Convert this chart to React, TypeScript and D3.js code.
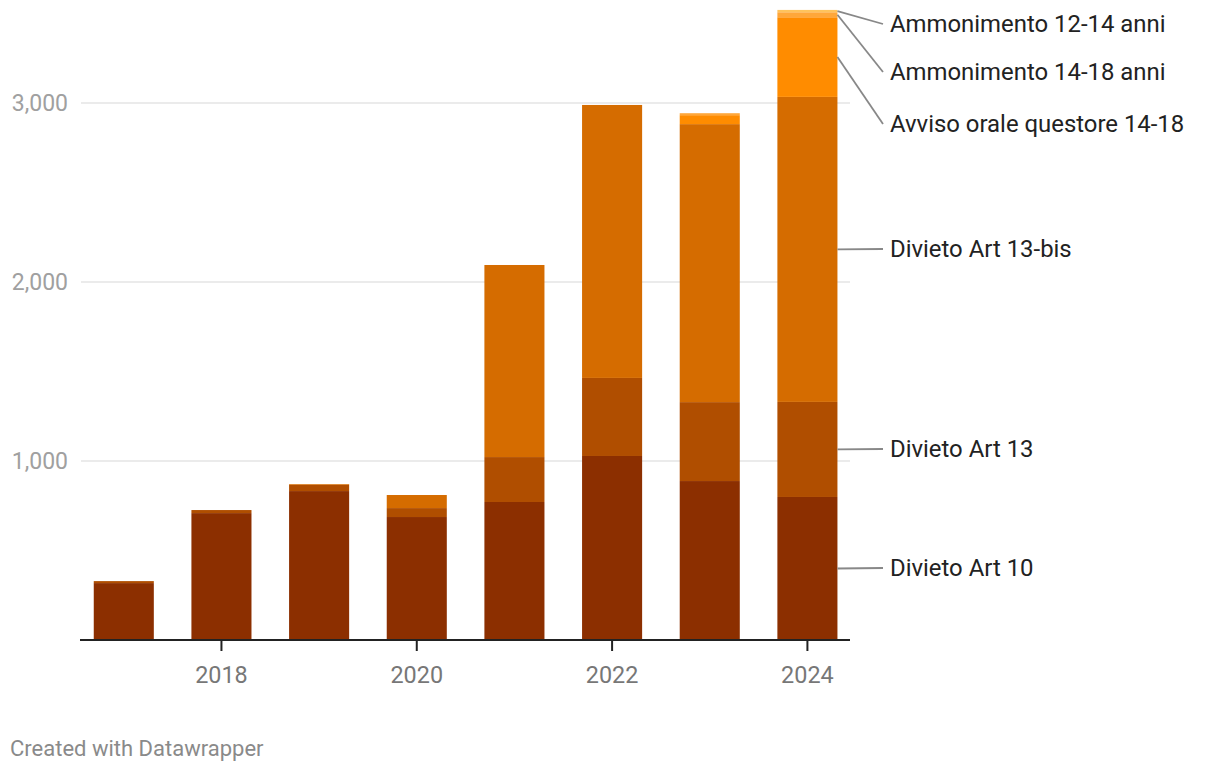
import React from "react";
import * as d3 from "d3";

const years = ["2017", "2018", "2019", "2020", "2021", "2022", "2023", "2024"];
const seriesNames = [
  "Divieto Art 10",
  "Divieto Art 13",
  "Divieto Art 13-bis",
  "Avviso orale questore 14-18",
  "Ammonimento 14-18 anni",
  "Ammonimento 12-14 anni",
];
const divietoArt10 = [318, 709, 832, 687, 771, 1028, 888, 799];
const divietoArt13 = [11, 17, 35, 50, 251, 436, 441, 531];
const divietoArt13bis = [0, 0, 4, 73, 1073, 1525, 1553, 1704];
const avvisoOrale = [0, 0, 0, 0, 0, 0, 50, 445];
const ammonimento1418 = [0, 0, 0, 0, 0, 0, 11, 28];
const ammonimento1214 = [0, 0, 0, 0, 0, 0, 0, 13];
const colors = ["#8c2f00", "#b04e00", "#d56c00", "#ff8c00", "#ffa73a", "#ffc35c"];
const yTicks = [1000, 2000, 3000];
const xTickLabels = ["2018", "2020", "2022", "2024"];
// label y positions (text centers) for the end labels
const labelY = [568, 449, 249, 124, 72, 24];

const W = 1220;
const H = 772;

export default function App() {
  const seriesValues = [divietoArt10, divietoArt13, divietoArt13bis, avvisoOrale, ammonimento1418, ammonimento1214];
  const table = years.map((y, i) => {
    const row: any = { year: y };
    seriesNames.forEach((s, k) => (row[s] = seriesValues[k][i]));
    return row;
  });
  const stacked = d3.stack<any>().keys(seriesNames)(table);

  const x = d3.scaleBand().domain(years).range([75.2, 856]).paddingInner(0.385).paddingOuter(0.19);
  const y = d3.scaleLinear().domain([0, 3000]).range([640, 103]);
  const font = "Roboto, 'Noto Sans', sans-serif";
  const last = years[years.length - 1];
  const lastX = (x(last) as number) + x.bandwidth();

  return (
    <svg width={W} height={H} style={{ position: "absolute", left: 0, top: 0 }} fontFamily={font}>
      <rect width={W} height={H} fill="#fff" />
      {yTicks.map((t) => (
        <g key={t}>
          <line x1={81} x2={850} y1={y(t)} y2={y(t)} stroke="#e5e5e5" strokeWidth={1.5} />
          <text x={68} y={y(t)} dy="0.35em" textAnchor="end" fontSize={23} fill="#a0a0a0">
            {d3.format(",")(t)}
          </text>
        </g>
      ))}
      {stacked.map((layer, k) => (
        <g key={layer.key} fill={colors[k]}>
          {layer.map((d, i) =>
            d[1] - d[0] > 0 ? (
              <rect
                key={i}
                x={x(years[i]) as number}
                width={x.bandwidth()}
                y={y(d[1])}
                height={y(d[0]) - y(d[1])}
              />
            ) : null
          )}
        </g>
      ))}
      <line x1={80} x2={850} y1={640} y2={640} stroke="#222" strokeWidth={2} />
      {xTickLabels.map((t) => {
        const cx = (x(t) as number) + x.bandwidth() / 2;
        return (
          <g key={t}>
            <line x1={cx} x2={cx} y1={640} y2={651} stroke="#222" strokeWidth={2} />
            <text x={cx} y={675} dy="0.35em" textAnchor="middle" fontSize={23.4} fill="#777">
              {t}
            </text>
          </g>
        );
      })}
      {stacked.map((layer, k) => {
        const d = layer[layer.length - 1];
        const midY = y((d[0] + d[1]) / 2);
        return (
          <g key={"lab" + k}>
            <line x1={lastX} x2={883} y1={midY} y2={labelY[k]} stroke="#888" strokeWidth={1.8} />
            <text x={890} y={labelY[k]} dy="0.35em" fontSize={23.9} fill="#222">
              {seriesNames[k]}
            </text>
          </g>
        );
      })}
      <text x={10} y={748} dy="0.35em" fontSize={22} fill="#8a8a8a">
        Created with Datawrapper
      </text>
    </svg>
  );
}
